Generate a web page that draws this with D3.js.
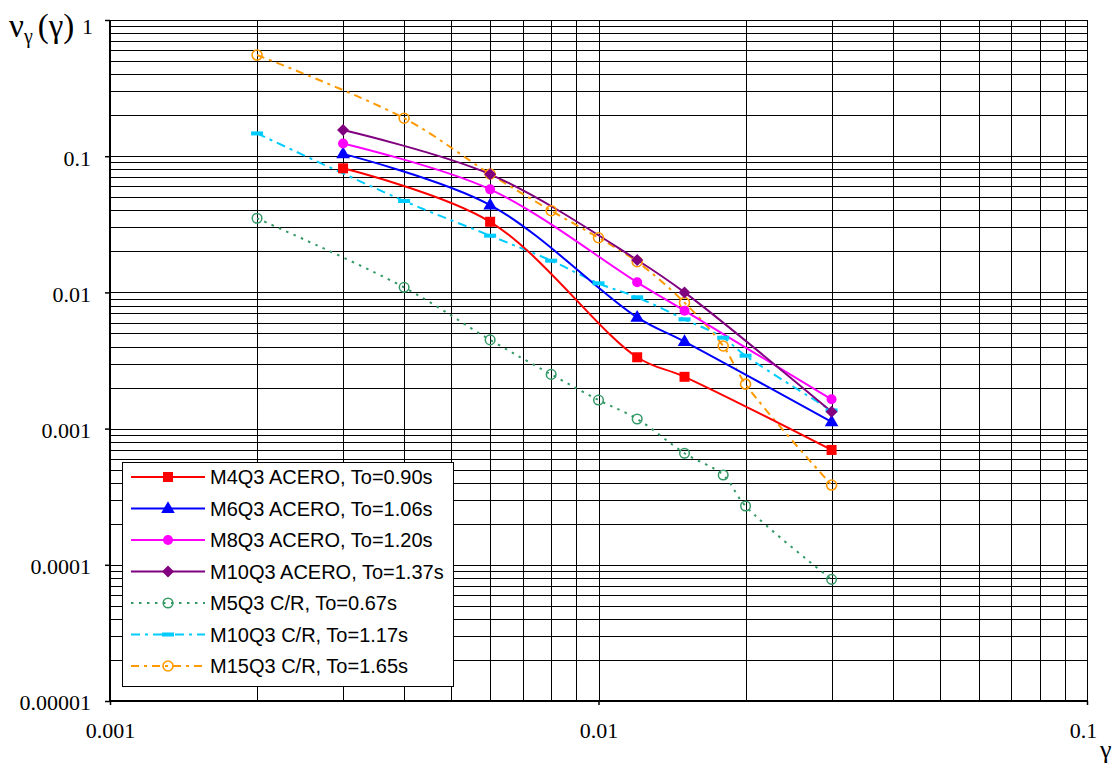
<!DOCTYPE html>
<html><head><meta charset="utf-8">
<script src="https://cdn.jsdelivr.net/npm/d3@7"></script>
<style>body{margin:0;background:#fff}svg{display:block}
.serif{font-family:"Liberation Serif","Times New Roman",serif}
.sans{font-family:"Liberation Sans",Arial,sans-serif}
</style>
</head><body>
<svg id="c" width="1113" height="766"></svg>
<script>
// ---- data ----
const seriesNames = [
  "M4Q3 ACERO, To=0.90s",
  "M6Q3 ACERO, To=1.06s",
  "M8Q3 ACERO, To=1.20s",
  "M10Q3 ACERO, To=1.37s",
  "M5Q3 C/R, To=0.67s",
  "M10Q3 C/R, To=1.17s",
  "M15Q3 C/R, To=1.65s"
];
const gammaAcero = [0.003, 0.006, 0.012, 0.015, 0.03];
const gammaCR = [0.002, 0.004, 0.006, 0.008, 0.01, 0.012, 0.015, 0.018, 0.02, 0.03];
const m4q3Acero  = [0.0815, 0.0330, 0.00334, 0.00240, 0.000697];
const m6q3Acero  = [0.104, 0.0438, 0.00656, 0.00435, 0.00112];
const m8q3Acero  = [0.124, 0.0571, 0.01186, 0.00734, 0.00164];
const m10q3Acero = [0.1556, 0.0736, 0.0173, 0.0100, 0.00133];
const m5q3CR  = [0.0350, 0.01089, 0.00448, 0.00250, 0.00162, 0.001177, 0.000659, 0.000456, 0.000270, 0.0000782];
const m10q3CR = [0.147, 0.0469, 0.0261, 0.0171, 0.01166, 0.0092, 0.00634, 0.00465, 0.00343, 0.00136];
const m15q3CR = [0.553, 0.190, 0.0740, 0.0398, 0.0252, 0.0168, 0.00841, 0.00404, 0.00212, 0.000385];
const xTickLabels = ["0.001", "0.01", "0.1"];
const yTickLabels = ["0.00001", "0.0001", "0.001", "0.01", "0.1", "1"];

// ---- styles ----
const styles = [
  {color:"#FF0000", dash:null, marker:"square"},
  {color:"#0000FF", dash:null, marker:"triangle"},
  {color:"#FF00FF", dash:null, marker:"circle"},
  {color:"#800080", dash:null, marker:"diamond"},
  {color:"#339966", dash:"2.5,5.5", marker:"ocircle"},
  {color:"#00CCFF", dash:"9,5,3,5", marker:"bar"},
  {color:"#FF9900", dash:"8,5,3,5", marker:"ocircle2"}
];
const seriesData = [
  [gammaAcero, m4q3Acero],[gammaAcero, m6q3Acero],[gammaAcero, m8q3Acero],[gammaAcero, m10q3Acero],
  [gammaCR, m5q3CR],[gammaCR, m10q3CR],[gammaCR, m15q3CR]
];

const svg = d3.select("#c");
const L=110, R=1087, T=20, B=701;
const x = d3.scaleLog().domain([0.001,0.1]).range([L,R]);
const y = d3.scaleLog().domain([1e-5,1]).range([B,T]);

// grid
const g = svg.append("g").attr("shape-rendering","crispEdges");
x.ticks().forEach(v=>{
  g.append("line").attr("x1",Math.round(x(v))+0.5).attr("x2",Math.round(x(v))+0.5)
   .attr("y1",T).attr("y2",B).attr("stroke","#000").attr("stroke-width",1);
});
y.ticks().forEach(v=>{
  g.append("line").attr("y1",Math.round(y(v))+0.5).attr("y2",Math.round(y(v))+0.5)
   .attr("x1",L).attr("x2",R).attr("stroke","#000").attr("stroke-width",1);
});
g.append("line").attr("x1",L).attr("x2",L).attr("y1",T).attr("y2",B+1).attr("stroke","#000").attr("stroke-width",2);
g.append("line").attr("x1",L-1).attr("x2",R+1).attr("y1",B).attr("y2",B).attr("stroke","#000").attr("stroke-width",2);

// axes via d3
const yMajor = yTickLabels.map(Number);
const xMajor = xTickLabels.map(Number);
const yAxis = d3.axisLeft(y).tickValues(yMajor).tickFormat((d,i)=>yTickLabels[i]).tickSize(5).tickPadding(14);
const xAxis = d3.axisBottom(x).tickValues(xMajor).tickFormat((d,i)=>xTickLabels[i]).tickSize(4).tickPadding(17);
const ya = svg.append("g").attr("transform",`translate(${L},0)`).call(yAxis);
const xa = svg.append("g").attr("transform",`translate(0,${B})`).call(xAxis);
[ya,xa].forEach(a=>{
  a.attr("font-family",null).attr("font-size",null);
  a.select(".domain").remove();
  a.selectAll("line").attr("stroke","#000").attr("stroke-width",1.5);
  a.selectAll("text").attr("class","serif").style("font-size","22px").attr("fill","#000");
});
ya.selectAll("text").attr("dy","0.4em");
ya.selectAll(".tick").filter(d=>d===1).select("text").attr("x",-17).attr("dy","0.6em");
xa.selectAll(".tick").filter(d=>d===0.1).select("text").attr("dx",-4);

// axis titles
const title = svg.append("text").attr("class","serif").attr("x",9).attr("y",37)
  .style("font-size","33px").attr("fill","#000");
title.append("tspan").text("ν");
title.append("tspan").style("font-size","20px").attr("dy",6).text("γ");
title.append("tspan").attr("dy",-6).attr("dx",5).text("(γ)");
svg.append("text").attr("class","serif").attr("x",1100).attr("y",758)
  .style("font-size","26px").attr("fill","#000").text("γ");

// markers
function drawMarker(sel, type, color){
  if(type==="square"){
    sel.append("rect").attr("x",-5).attr("y",-5).attr("width",10).attr("height",10).attr("fill",color);
  } else if(type==="triangle"){
    sel.append("path").attr("d",d3.symbol(d3.symbolTriangle,80)()).attr("transform","translate(0,0.5)").attr("fill",color);
  } else if(type==="circle"){
    sel.append("circle").attr("r",5).attr("fill",color);
  } else if(type==="diamond"){
    sel.append("path").attr("d","M0,-6L6,0L0,6L-6,0Z").attr("fill",color);
  } else if(type==="ocircle"){
    sel.append("circle").attr("r",4.8).attr("fill","none").attr("stroke",color).attr("stroke-width",1.5);
  } else if(type==="ocircle2"){
    sel.append("circle").attr("r",5).attr("fill","none").attr("stroke",color).attr("stroke-width",1.6);
  } else if(type==="bar"){
    sel.append("rect").attr("x",-6).attr("y",-2).attr("width",12).attr("height",4).attr("fill",color);
  }
}

const line = d3.line().x(d=>x(d[0])).y(d=>y(d[1])).curve(d3.curveCatmullRom.alpha(0.5));
const plot = svg.append("g");
const order = [4,5,6,0,1,2,3];
order.forEach(i=>{
  const [xs, ys] = seriesData[i];
  const pts = xs.map((v,k)=>[v, ys[k]]);
  const st = styles[i];
  plot.append("path").attr("d",line(pts)).attr("fill","none").attr("stroke",st.color)
    .attr("stroke-width",2).attr("stroke-dasharray",st.dash);
});
order.forEach(i=>{
  const [xs, ys] = seriesData[i];
  const st = styles[i];
  xs.forEach((v,k)=>{
    const m = plot.append("g").attr("transform",`translate(${x(v)},${y(ys[k])})`);
    drawMarker(m, st.marker, st.color);
  });
});

// legend
const lg = svg.append("g");
lg.append("rect").attr("x",122.5).attr("y",462.5).attr("width",331).attr("height",224)
  .attr("fill","#fff").attr("stroke","#000").attr("stroke-width",1);
seriesNames.forEach((name,i)=>{
  const yy = 477 + i*31.5;
  const st = styles[i];
  lg.append("line").attr("x1",131).attr("x2",205).attr("y1",yy).attr("y2",yy)
    .attr("stroke",st.color).attr("stroke-width",2).attr("stroke-dasharray",st.dash);
  drawMarker(lg.append("g").attr("transform",`translate(168,${yy})`), st.marker, st.color);
  lg.append("text").attr("class","sans").attr("x",210).attr("y",yy).attr("dy","0.36em")
    .style("font-size","20px").attr("fill","#000").text(name);
});
</script>
</body></html>
